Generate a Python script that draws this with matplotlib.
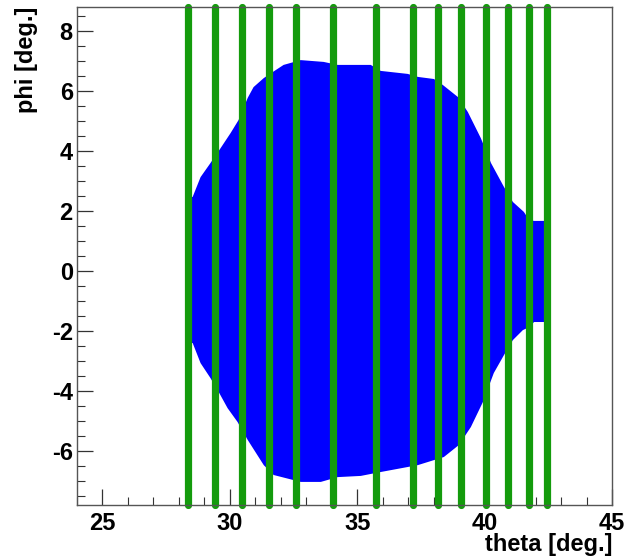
import matplotlib
matplotlib.use('Agg')
import matplotlib.pyplot as plt
from matplotlib.ticker import MultipleLocator

# outline of the blue hit region (theta, phi), traced clockwise from the left edge
theta_outline = [28.45, 28.54, 28.85, 29.24, 29.64, 30.03, 30.34, 30.70, 30.93, 31.33,
                 31.68, 32.11, 32.78, 33.68, 34.23, 35.53, 35.92, 36.98, 37.38, 38.01,
                 38.36, 38.95, 39.34, 39.85, 40.25, 40.76, 41.11, 41.54, 41.75, 41.94,
                 42.33, 42.33, 41.94, 41.75, 41.50, 41.11, 40.76, 40.36, 39.93, 39.46,
                 38.99, 38.40, 37.38, 35.92, 35.14, 34.23, 33.57, 32.78, 31.72, 31.33,
                 30.70, 30.30, 29.91, 29.56, 29.24, 28.85, 28.54, 28.45]
phi_outline = [2.45, 2.47, 3.13, 3.60, 4.10, 4.60, 5.03, 5.77, 6.13, 6.43,
               6.63, 6.87, 7.03, 6.97, 6.87, 6.87, 6.67, 6.57, 6.47, 6.40,
               6.20, 5.80, 5.30, 4.43, 3.60, 2.80, 2.30, 1.97, 1.70, 1.67,
               1.67, -1.70, -1.70, -1.87, -1.97, -2.30, -2.80, -3.40, -4.37, -5.20,
               -5.80, -6.20, -6.47, -6.70, -6.83, -6.87, -7.03, -7.03, -6.80, -6.47,
               -5.63, -5.03, -4.57, -4.03, -3.57, -3.07, -2.40, -2.40]

# theta of the green strip boundaries
strip_theta = [28.36, 29.41, 30.46, 31.52, 32.61, 34.03, 35.72, 37.18,
               38.16, 39.09, 40.04, 40.92, 41.76, 42.44]

plt.rcParams['font.family'] = ['Liberation Sans', 'DejaVu Sans']
plt.rcParams['font.weight'] = 'bold'
plt.rcParams['axes.unicode_minus'] = False

fig = plt.figure(figsize=(6.24, 5.56), dpi=100)
ax = fig.add_axes([0.1234, 0.0917, 0.8574, 0.8957])

x_min, x_max = 24.0, 45.0
y_min, y_max = -7.8, 8.8

ax.fill(theta_outline, phi_outline, facecolor='#0000ff', linewidth=0, zorder=1)

for t in strip_theta:
    ax.plot([t, t], [y_min, y_max], color='#149b0c', linewidth=5.2,
            solid_capstyle='round', clip_on=False, zorder=3)

ax.set_xlim(x_min, x_max)
ax.set_ylim(y_min, y_max)

ax.xaxis.set_major_locator(MultipleLocator(5))
ax.xaxis.set_minor_locator(MultipleLocator(1))
ax.yaxis.set_major_locator(MultipleLocator(2))
ax.yaxis.set_minor_locator(MultipleLocator(0.5))

ax.tick_params(which='both', direction='in', top=False, right=False,
               labelsize=17, color='#333333')
ax.tick_params(which='major', length=11.5, width=0.9)
ax.tick_params(which='minor', length=5.8, width=0.8)
ax.tick_params(axis='y', pad=3)
ax.tick_params(axis='x', pad=5)
for lbl in ax.get_xticklabels() + ax.get_yticklabels():
    lbl.set_fontweight('bold')

for spine in ax.spines.values():
    spine.set_color('#555555')
    spine.set_linewidth(1.0)
    spine.set_zorder(4)

ax.set_xlabel('theta [deg.]', fontsize=17, fontweight='bold', loc='right')
ax.set_ylabel('phi [deg.]', fontsize=17, fontweight='bold', loc='top')
ax.xaxis.set_label_coords(1.0, -0.056)
ax.yaxis.set_label_coords(-0.073, 1.0)

fig.savefig('out.png', dpi=100)
